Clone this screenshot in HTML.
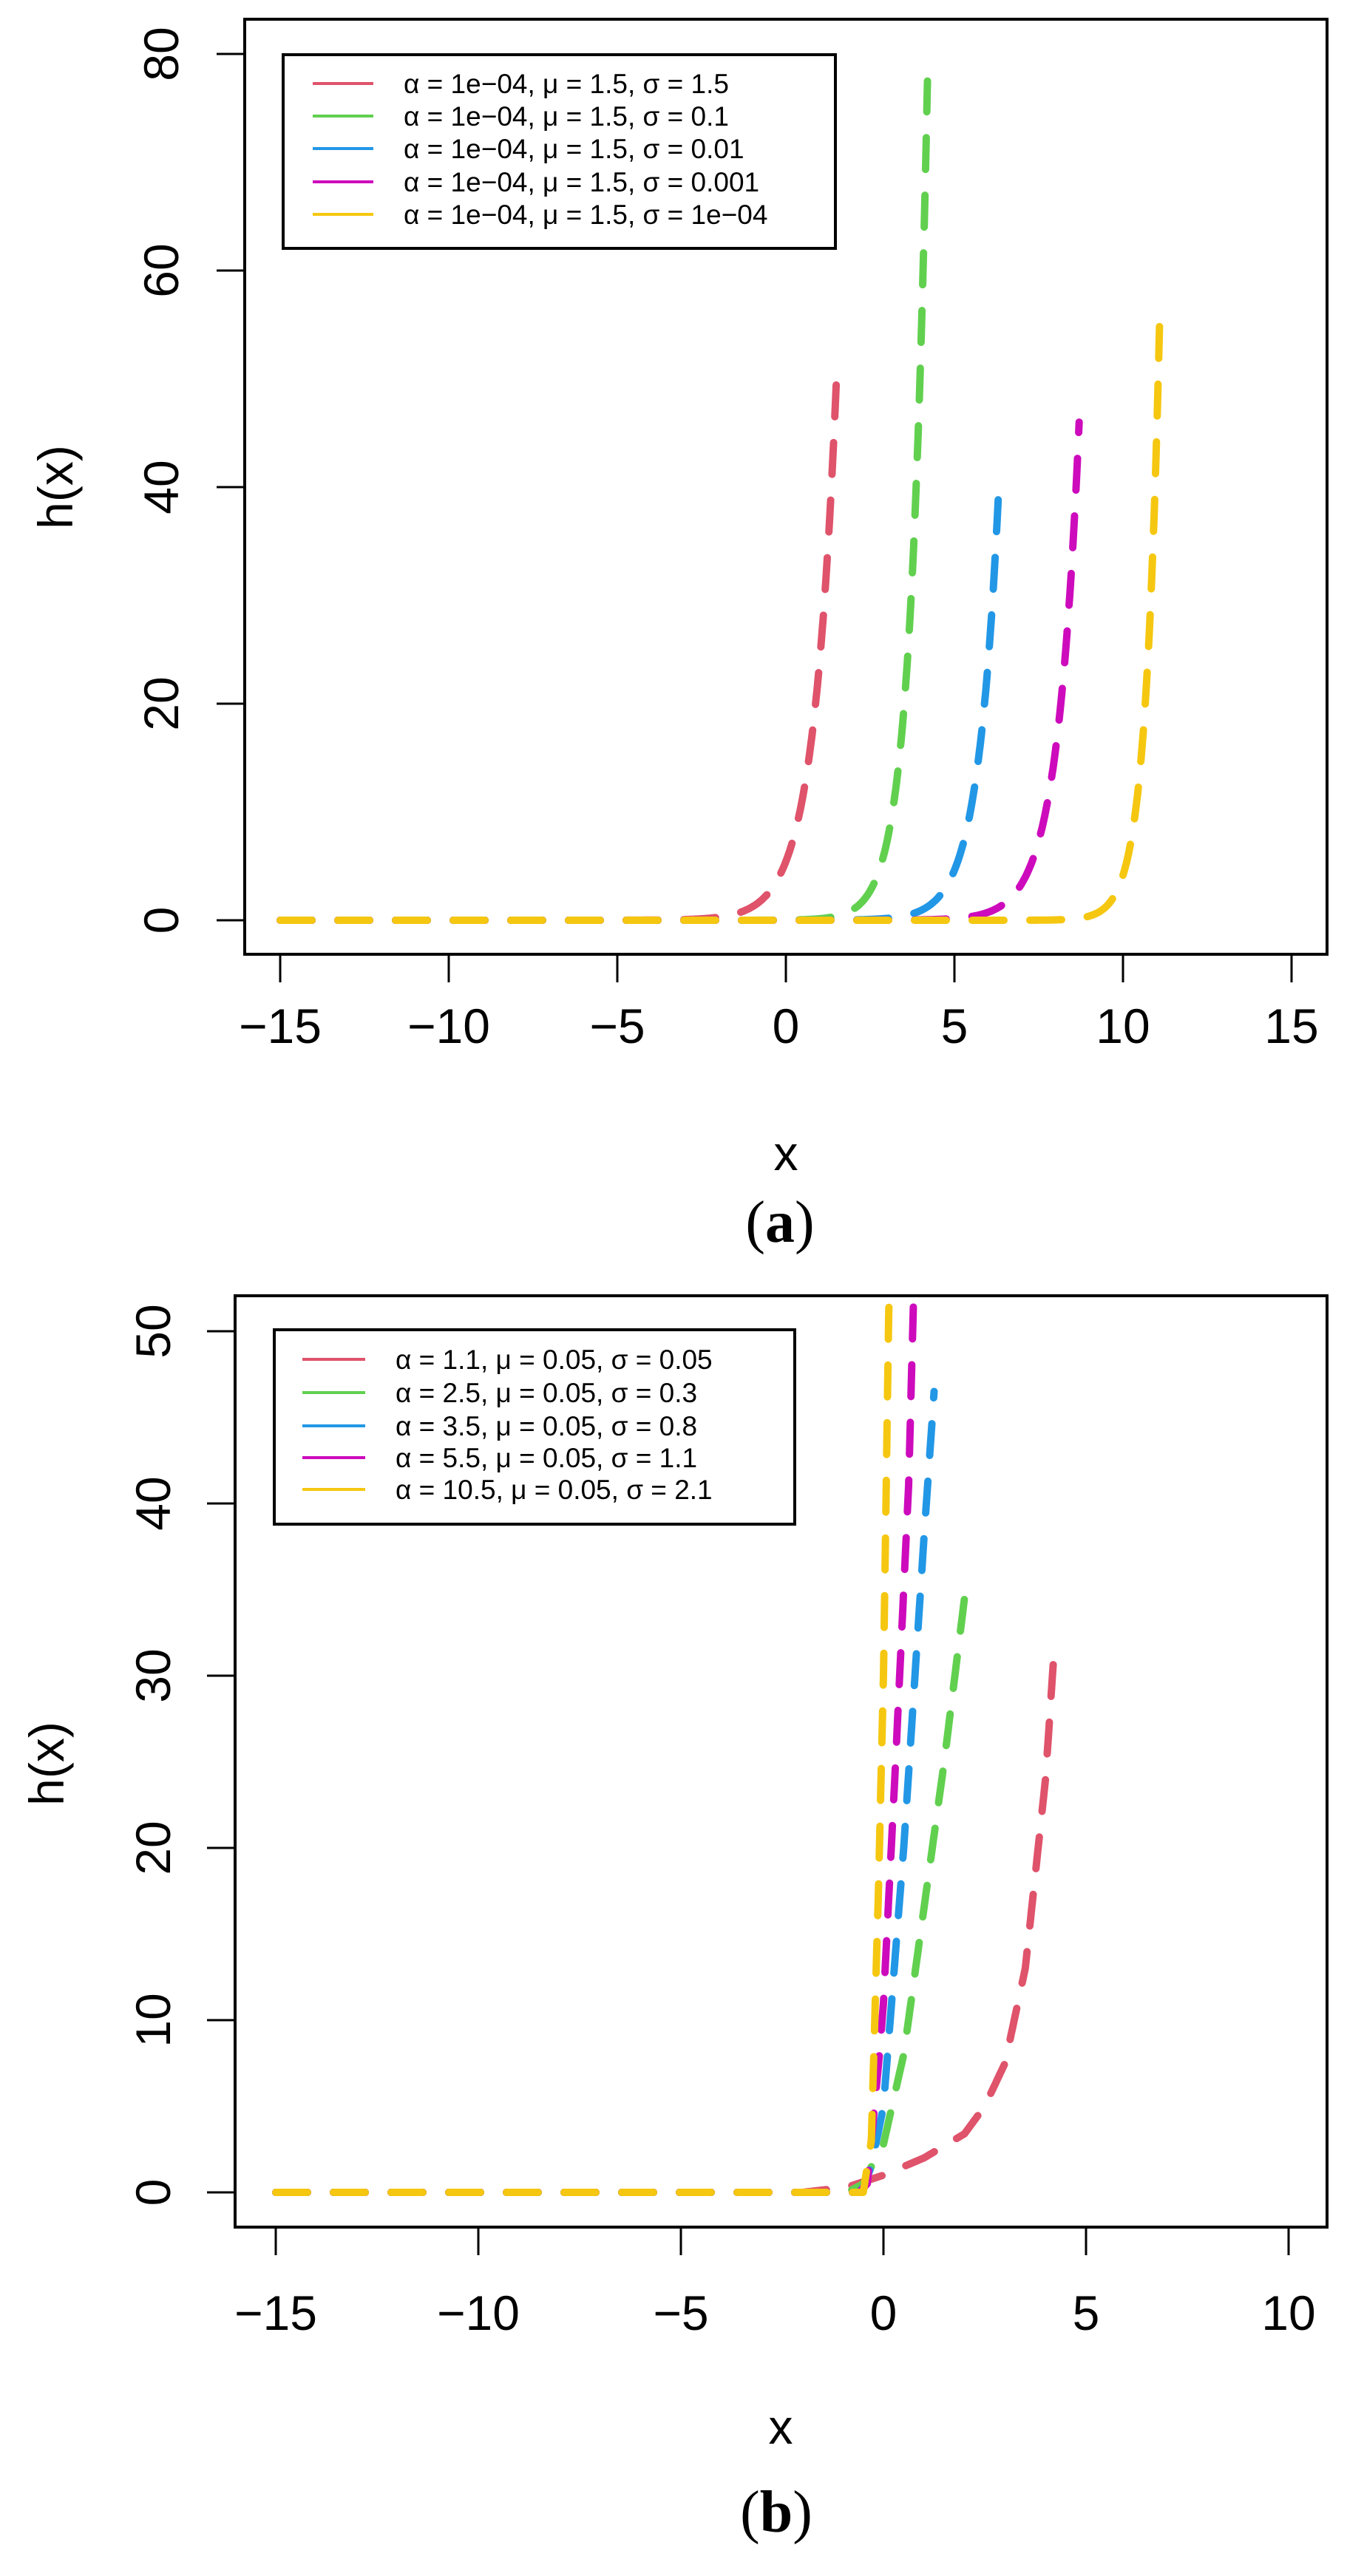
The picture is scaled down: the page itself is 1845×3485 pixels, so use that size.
<!DOCTYPE html>
<html><head><meta charset="utf-8"><style>
body{margin:0;background:#fff}
svg{display:block}
text{font-family:"Liberation Sans",Arial,sans-serif;fill:#000}
</style></head><body>
<svg id="s" width="1845" height="3485" viewBox="0 0 1845 3485" xmlns="http://www.w3.org/2000/svg">
<defs>
<clipPath id="c1"><rect x="331" y="26" width="1464" height="1265"/></clipPath>
<clipPath id="c2"><rect x="318" y="1753" width="1477" height="1260"/></clipPath>
</defs>
<g id="g1" clip-path="url(#c1)"></g>
<g id="g2" clip-path="url(#c2)"></g>
<rect x="331" y="26" width="1464" height="1265" fill="none" stroke="#000" stroke-width="4"/>
<g id="ax1" stroke="#000" stroke-width="3"></g>
<rect x="383" y="74" width="747" height="262" fill="#fff" stroke="#000" stroke-width="4"/>
<g font-size="37">
<line x1="423" y1="113" x2="505" y2="113" stroke="#DF536B" stroke-width="4"/>
<text x="546" y="126">α = 1e−04, μ = 1.5, σ = 1.5</text>
<line x1="423" y1="157" x2="505" y2="157" stroke="#61D04F" stroke-width="4"/>
<text x="546" y="170">α = 1e−04, μ = 1.5, σ = 0.1</text>
<line x1="423" y1="201" x2="505" y2="201" stroke="#2297E6" stroke-width="4"/>
<text x="546" y="214">α = 1e−04, μ = 1.5, σ = 0.01</text>
<line x1="423" y1="246" x2="505" y2="246" stroke="#CD0BBC" stroke-width="4"/>
<text x="546" y="259">α = 1e−04, μ = 1.5, σ = 0.001</text>
<line x1="423" y1="290" x2="505" y2="290" stroke="#F5C710" stroke-width="4"/>
<text x="546" y="303">α = 1e−04, μ = 1.5, σ = 1e−04</text>
</g>
<text x="1063" y="1583" font-size="66" text-anchor="middle">x</text>
<text transform="translate(98,659) rotate(-90)" font-size="66" text-anchor="middle">h(x)</text>
<text x="1055" y="1680" font-size="80" text-anchor="middle" style="font-family:'Liberation Serif',serif">(<tspan font-weight="bold">a</tspan>)</text>

<rect x="318" y="1753" width="1477" height="1260" fill="none" stroke="#000" stroke-width="4"/>
<g id="ax2" stroke="#000" stroke-width="3"></g>
<g font-size="37">
<text x="535" y="1852">α = 1.1, μ = 0.05, σ = 0.05</text>
<text x="535" y="1897">α = 2.5, μ = 0.05, σ = 0.3</text>
<text x="535" y="1942">α = 3.5, μ = 0.05, σ = 0.8</text>
<text x="535" y="1985">α = 5.5, μ = 0.05, σ = 1.1</text>
<text x="535" y="2028">α = 10.5, μ = 0.05, σ = 2.1</text>
</g>
<text x="1056" y="3306" font-size="66" text-anchor="middle">x</text>
<text transform="translate(86,2386) rotate(-90)" font-size="66" text-anchor="middle">h(x)</text>
<text x="1050" y="3425" font-size="80" text-anchor="middle" style="font-family:'Liberation Serif',serif">(<tspan font-weight="bold">b</tspan>)</text>
</svg>
<script>
(function(){
var NS="http://www.w3.org/2000/svg",s=document.getElementById('s');
function el(t,a,p){var e=document.createElementNS(NS,t);for(var k in a)e.setAttribute(k,a[k]);(p||s).appendChild(e);return e;}
var X1=function(x){return 379+(x+15)*45.6},Y1=function(y){return 1245-y*14.65};
var X2=function(x){return 373+(x+15)*54.8},Y2=function(y){return 2966-y*23.3};
var ax1=document.getElementById('ax1'),ax2=document.getElementById('ax2');
[-15,-10,-5,0,5,10,15].forEach(function(v){var x=X1(v);el('line',{x1:x,y1:1291,x2:x,y2:1329},ax1);
 var t=el('text',{x:x,y:1411,'font-size':66,'text-anchor':'middle',stroke:'none'});t.textContent=(v<0?'\u2212'+(-v):v);});
[0,20,40,60,80].forEach(function(v){var y=Y1(v);el('line',{x1:293,y1:y,x2:331,y2:y},ax1);
 var t=el('text',{transform:'translate(241,'+y+') rotate(-90)','font-size':66,'text-anchor':'middle',stroke:'none'});t.textContent=v;});
[-15,-10,-5,0,5,10].forEach(function(v){var x=X2(v);el('line',{x1:x,y1:3013,x2:x,y2:3051},ax2);
 var t=el('text',{x:x,y:3152,'font-size':66,'text-anchor':'middle',stroke:'none'});t.textContent=(v<0?'\u2212'+(-v):v);});
[0,10,20,30,40,50].forEach(function(v){var y=Y2(v);el('line',{x1:280,y1:y,x2:318,y2:y},ax2);
 var t=el('text',{transform:'translate(230,'+y+') rotate(-90)','font-size':66,'text-anchor':'middle',stroke:'none'});t.textContent=v;});
function path(pts,col,g){var d='';pts.forEach(function(p,i){d+=(i?'L':'M')+p[0].toFixed(1)+' '+p[1].toFixed(1)});
 el('path',{d:d,fill:'none',stroke:col,'stroke-width':10,'stroke-dasharray':'43 35','stroke-linecap':'round','stroke-linejoin':'round'},g);}
var g1=document.getElementById('g1'),g2=document.getElementById('g2');
var topc=[[1.5,50,1.48,'#DF536B'],[4.2,77.5,1.97,'#61D04F'],[6.3,39,1.64,'#2297E6'],[8.7,46,1.53,'#CD0BBC'],[11.1,57,2.38,'#F5C710']];
topc.forEach(function(c){var p=[];for(var x=-15;x<=c[0]+1e-9;x+=0.02){var xx=Math.min(x,c[0]);p.push([X1(xx),Y1(c[1]*Math.exp(c[2]*(xx-c[0])))]);}
 p.push([X1(c[0]),Y1(c[1])]);path(p,c[3],g1);});
var bot=[
 ['#DF536B',[[-15,0],[-2,0],[-0.9,0.3],[0,1.0],[1,2.0],[2,3.4],[2.5,5],[3,7.5],[3.5,13],[4,24],[4.2,31]]],
 ['#61D04F',[[-15,0],[-0.9,0],[-0.5,0.5],[-0.3,1.5],[0,2.8],[0.5,8],[1,16.5],[1.5,25],[2,34.5]]],
 ['#2297E6',[[-15,0],[-0.6,0],[-0.5,0.3],[-0.3,1.5],[0,5],[0.5,20],[1,38],[1.25,46.5]]],
 ['#CD0BBC',[[-15,0],[-0.6,0],[-0.4,0.5],[-0.1,8],[0,11],[0.3,25],[0.62,41],[0.75,52.5]]],
 ['#F5C710',[[-15,0],[-0.5,0],[-0.3,3],[-0.13,17],[0,30],[0.13,51],[0.15,53]]]];
bot.forEach(function(c){var pts=c[1],p=[];
 for(var i=0;i<pts.length-1;i++){var a=pts[i],b=pts[i+1],n=Math.max(2,Math.ceil((b[0]-a[0])*40));
  for(var j=0;j<n;j++){var t=j/n;p.push([X2(a[0]+(b[0]-a[0])*t),Y2(a[1]+(b[1]-a[1])*t)]);}}
 var L=pts[pts.length-1];p.push([X2(L[0]),Y2(L[1])]);path(p,c[0],g2);});
el('rect',{x:371,y:1799,width:704,height:263,fill:'none',stroke:'#000','stroke-width':4});
[[1839,'#DF536B'],[1884,'#61D04F'],[1929,'#2297E6'],[1972,'#CD0BBC'],[2015,'#F5C710']].forEach(function(r){
 el('line',{x1:409,y1:r[0],x2:494,y2:r[0],stroke:r[1],'stroke-width':4});});
})();
</script>
</body></html>
